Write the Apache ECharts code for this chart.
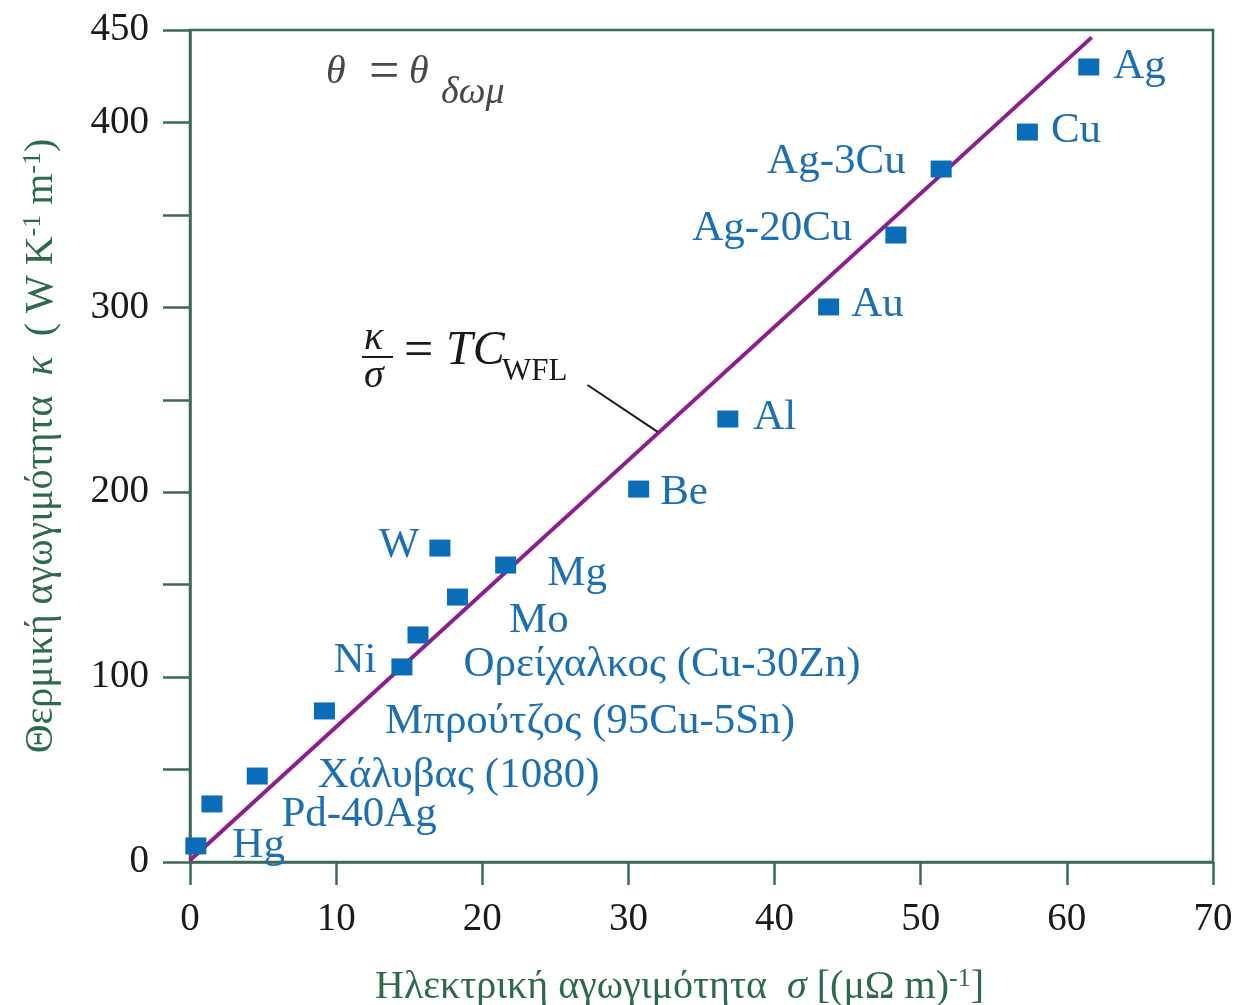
<!DOCTYPE html>
<html>
<head>
<meta charset="utf-8">
<script src="https://cdn.jsdelivr.net/npm/echarts@6/dist/echarts.min.js"></script>
<style>
  html, body { margin: 0; padding: 0; background: #fff; }
  #chart { width: 1258px; height: 1005px; }
</style>
</head>
<body>
<div id="chart"></div>
<script>
// μέταλλα / κράματα
const names = ['Hg', 'Pd-40Ag', 'Χάλυβας (1080)', 'Μπρούτζος (95Cu-5Sn)', 'Ni',
  'Ορείχαλκος (Cu-30Zn)', 'Mo', 'Mg', 'W', 'Be', 'Al', 'Au', 'Ag-20Cu', 'Ag-3Cu', 'Cu', 'Ag'];
const sigma = [0.4, 1.5, 4.6, 9.2, 14.5, 15.6, 18.3, 21.6, 17.1, 30.7, 36.8, 43.7, 48.3, 51.4, 57.3, 61.5];
const kappa = [8.7, 31.4, 46.5, 81.7, 105.5, 122.8, 143.3, 160.6, 169.8, 201.7, 239.6, 300.2, 339.1, 374.8, 394.8, 430.0];

// ευθεία Wiedemann-Franz
const fitX = [0, 61.7];
const fitY = [1, 446];
// γραμμή οδηγός για τη σημείωση
const leaderX = [27.2, 32.0];
const leaderY = [258, 232.6];

const xTicks = [0, 10, 20, 30, 40, 50, 60, 70];
const yTickLabels = [0, 100, 200, 300, 400, 450];

// θέση ετικετών: [πλευρά, απόσταση, κατακόρυφη μετατόπιση]
const labelPlace = {
  'Hg': ['right', 26, 0],
  'Pd-40Ag': ['right', 59, 11],
  'Χάλυβας (1080)': ['right', 50, 0],
  'Μπρούτζος (95Cu-5Sn)': ['right', 50, 11],
  'Ni': ['left', 15, -6],
  'Ορείχαλκος (Cu-30Zn)': ['right', 35, 30],
  'Mo': ['right', 41, 24],
  'Mg': ['right', 31, 9],
  'W': ['left', 10, -2],
  'Be': ['right', 11, 4],
  'Al': ['right', 15, -1],
  'Au': ['right', 12, -2],
  'Ag-20Cu': ['left', 33, -6],
  'Ag-3Cu': ['left', 25, -7],
  'Cu': ['right', 13, -1],
  'Ag': ['right', 14, 0]
};

const serif = '"Liberation Serif", "DejaVu Serif", serif';
const axisGreen = '#3a6a58';
const titleGreen = '#2c6a4c';
const blue = '#0b6cb8';

const chart = echarts.init(document.getElementById('chart'));

const points = names.map((n, i) => {
  const p = labelPlace[n];
  return {
    name: n,
    value: [sigma[i], kappa[i]],
    label: { position: p[0], distance: p[1], offset: [0, p[2]] }
  };
});

const titleRich = {
  i: { fontFamily: serif, fontSize: 40, fontStyle: 'italic', color: titleGreen },
  s: { fontFamily: serif, fontSize: 26, color: titleGreen, verticalAlign: 'top', padding: [0, 0, 16, 0] }
};

chart.setOption({
  animation: false,
  grid: {
    left: 190, right: 45, top: 30, bottom: 143,
    outerBoundsMode: 'none',
    show: true, borderColor: axisGreen, borderWidth: 2.5
  },
  xAxis: {
    type: 'value', min: 0, max: 70, interval: 10,
    name: 'Ηλεκτρική αγωγιμότητα  {i|σ} [(μΩ m){s|-1}]',
    nameLocation: 'middle', nameGap: 104,
    nameTextStyle: {
      fontFamily: serif, fontSize: 40, color: titleGreen,
      padding: [0, 44, 0, 0],
      rich: titleRich
    },
    axisLine: { lineStyle: { color: axisGreen, width: 2.5 } },
    axisTick: { length: 23, lineStyle: { color: axisGreen, width: 2.5 } },
    axisLabel: {
      margin: 38, fontFamily: serif, fontSize: 39, color: '#1a1a1a',
      formatter: v => xTicks.includes(v) ? String(v) : ''
    },
    splitLine: { show: false }
  },
  yAxis: {
    type: 'value', min: 0, max: 450, interval: 50,
    name: 'Θερμική αγωγιμότητα  {i|κ}  ( W K{s|-1} m{s|-1})',
    nameLocation: 'middle', nameGap: 128, nameRotate: 90,
    nameTextStyle: {
      fontFamily: serif, fontSize: 40, color: titleGreen,
      rich: titleRich
    },
    axisLine: { lineStyle: { color: axisGreen, width: 2.5 } },
    axisTick: { length: 27, lineStyle: { color: axisGreen, width: 2.5 } },
    axisLabel: {
      margin: 41, fontFamily: serif, fontSize: 39, color: '#1a1a1a',
      formatter: v => yTickLabels.includes(v) ? String(v) : ''
    },
    splitLine: { show: false }
  },
  series: [
    {
      type: 'line',
      data: fitX.map((x, i) => [x, fitY[i]]),
      showSymbol: false,
      lineStyle: { color: '#8b1f8e', width: 4 },
      z: 2
    },
    {
      type: 'line',
      data: leaderX.map((x, i) => [x, leaderY[i]]),
      showSymbol: false,
      lineStyle: { color: '#1a1a1a', width: 2 },
      z: 2
    },
    {
      type: 'scatter',
      data: points,
      symbol: 'rect',
      symbolSize: [21, 17],
      itemStyle: { color: blue, opacity: 1 },
      label: {
        show: true, formatter: '{b}',
        fontFamily: serif, fontSize: 43, color: '#1d6fb4'
      },
      z: 3
    }
  ],
  graphic: [
    // θ = θ_δωμ
    { type: 'text', left: 326, top: 52, style: { text: 'θ', font: 'italic 40px ' + serif, fill: '#474747' } },
    { type: 'text', left: 369, top: 47, style: { text: '=', font: '54px ' + serif, fill: '#474747' } },
    { type: 'text', left: 409, top: 52, style: { text: 'θ', font: 'italic 40px ' + serif, fill: '#474747' } },
    { type: 'text', left: 441, top: 74, style: { text: 'δωμ', font: 'italic 38px ' + serif, fill: '#474747' } },
    // κ/σ = TC_WFL
    { type: 'text', left: 364, top: 318, style: { text: 'κ', font: 'italic 40px ' + serif, fill: '#1a1a1a' } },
    { type: 'rect', shape: { x: 362, y: 356, width: 31, height: 2 }, style: { fill: '#1a1a1a' } },
    { type: 'text', left: 364, top: 356, style: { text: 'σ', font: 'italic 40px ' + serif, fill: '#1a1a1a' } },
    { type: 'text', left: 404, top: 326, style: { text: '=', font: '52px ' + serif, fill: '#1a1a1a' } },
    { type: 'text', left: 446, top: 327, style: { text: 'TC', font: 'italic 48px ' + serif, fill: '#1a1a1a' } },
    { type: 'text', left: 502, top: 356, style: { text: 'WFL', font: '31px ' + serif, fill: '#1a1a1a' } }
  ]
});
</script>
</body>
</html>
